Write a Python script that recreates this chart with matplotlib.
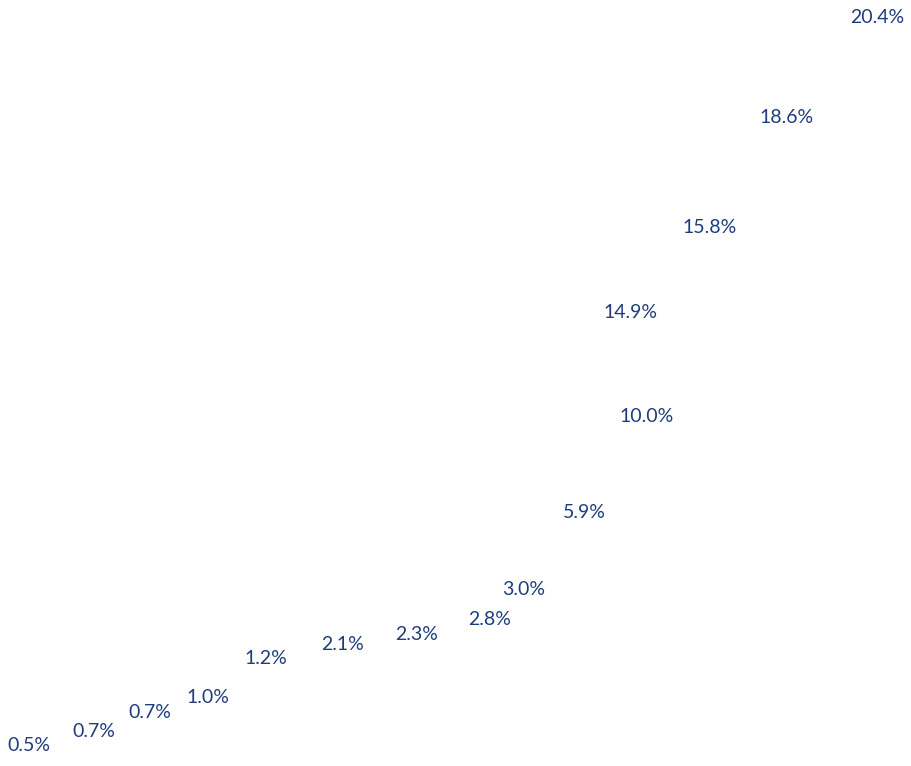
import matplotlib
matplotlib.use("Agg")
import matplotlib.pyplot as plt

# values shown as labels
values = [0.5, 0.7, 0.7, 1.0, 1.2, 2.1, 2.3, 2.8, 3.0, 5.9, 10.0, 14.9, 15.8, 18.6, 20.4]
# label anchor points (x across, y down from top)
label_x = [29, 94, 150, 208, 266, 343, 417, 490, 524, 584, 647, 630, 710, 787, 877]
label_y = [744, 730, 711, 696, 657, 643, 633, 618, 588, 511, 415, 311, 226, 116, 16]

TXT_COLOR = "#1f3d7c"

fig = plt.figure(figsize=(9.12, 7.66), dpi=100)
ax = fig.add_axes([0, 0, 1, 1])
ax.set_xlim(0, 912)
ax.set_ylim(766, 0)
ax.axis("off")

for v, x, y in zip(values, label_x, label_y):
    ax.text(x, y, f"{v:.1f}%", ha="center", va="center_baseline",
            fontsize=14, color=TXT_COLOR, fontweight="normal",
            family=["Lato", "DejaVu Sans"])

fig.savefig("out.png", dpi=100, facecolor="white")
